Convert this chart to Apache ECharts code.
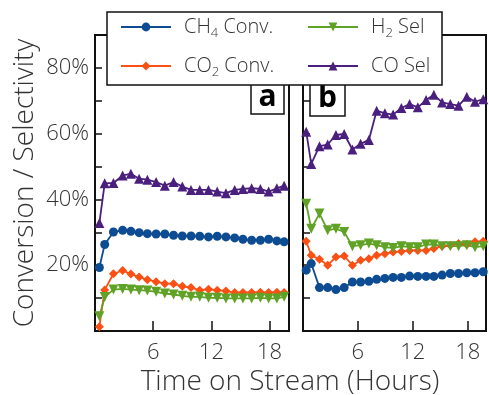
<!DOCTYPE html>
<html>
<head>
<meta charset="utf-8">
<script src="https://cdn.jsdelivr.net/npm/echarts@6/dist/echarts.min.js"></script>
<style>
  html, body { margin: 0; padding: 0; background: #fff; }
  #chart { width: 489px; height: 395px; }
</style>
</head>
<body>
<div id="chart"></div>
<script>
// Time on stream (hours) for each panel
const timeA = [0.45, 1.0, 1.9, 2.85, 3.7, 4.55, 5.4, 6.3, 7.2, 8.1, 9.0, 9.9, 10.8, 11.7, 12.6, 13.5, 14.4, 15.25, 16.15, 17.05, 17.9, 18.75, 19.5];
const timeB = [0.35, 0.9, 1.8, 2.7, 3.6, 4.5, 5.4, 6.3, 7.2, 8.05, 8.95, 9.85, 10.75, 11.65, 12.55, 13.45, 14.3, 15.2, 16.1, 17.0, 17.9, 18.8, 19.7];

// Panel a (%)
const ch4A = [19.3, 26.3, 30.1, 30.6, 30.3, 29.9, 29.6, 29.5, 29.5, 29.1, 28.9, 28.9, 28.8, 28.6, 28.8, 28.6, 28.3, 27.9, 27.6, 27.6, 27.9, 27.4, 27.1];
const co2A = [1.3, 12.5, 17.4, 18.4, 17.3, 16.4, 15.6, 15.0, 14.4, 14.4, 13.6, 13.2, 12.4, 12.7, 12.4, 12.2, 11.7, 11.7, 11.7, 11.8, 11.7, 11.8, 11.7];
const h2A  = [4.5, 10.3, 12.6, 12.8, 12.6, 12.4, 12.3, 11.9, 11.4, 11.1, 10.7, 10.4, 10.4, 10.1, 10.1, 9.9, 9.9, 9.9, 9.9, 10.1, 9.9, 9.9, 10.4];
const coA  = [32.8, 44.9, 45.0, 47.3, 47.8, 46.3, 46.0, 45.3, 44.2, 45.3, 43.9, 42.9, 42.9, 42.9, 42.4, 41.9, 42.9, 43.2, 43.4, 43.2, 42.4, 43.4, 44.2];

// Panel b (%)
const ch4B = [18.5, 20.5, 13.2, 13.2, 12.6, 13.2, 14.9, 14.9, 15.1, 15.7, 16.0, 16.3, 16.3, 16.7, 16.6, 16.6, 16.6, 17.0, 17.5, 17.5, 17.7, 17.7, 18.0];
const co2B = [27.3, 23.0, 21.8, 20.0, 22.5, 22.8, 20.0, 21.5, 22.0, 23.0, 23.5, 24.0, 24.2, 24.5, 24.5, 24.5, 25.1, 25.8, 26.1, 26.6, 26.3, 27.1, 27.3];
const h2B  = [38.7, 31.1, 35.7, 30.6, 31.1, 30.1, 25.8, 26.1, 26.6, 26.1, 25.5, 25.2, 25.8, 25.5, 25.5, 26.3, 26.3, 25.8, 25.8, 25.8, 26.1, 25.5, 25.8];
const coB  = [60.6, 50.8, 56.2, 56.7, 59.6, 59.9, 55.2, 56.9, 58.1, 67.0, 66.2, 65.8, 67.8, 69.0, 68.0, 70.2, 71.8, 69.5, 69.0, 68.5, 71.2, 69.7, 70.5];

// Tick labels
const xTickLabels = [6, 12, 18];
const yTickLabels = [20, 40, 60, 80];

const FONT = 'Open Sans';
const INK = '#111';
const TEXT = '#333';

const seriesDefs = [
  { name: 'CH4 Conv.', color: '#0d4c92', symbol: 'circle', size: 9, rotate: 0, a: ch4A, b: ch4B },
  { name: 'CO2 Conv.', color: '#fb4f14', symbol: 'diamond', size: 9, rotate: 0, a: co2A, b: co2B },
  { name: 'H2 Sel', color: '#5fa226', symbol: 'triangle', size: 10, rotate: 180, a: h2A, b: h2B },
  { name: 'CO Sel', color: '#4a1f7e', symbol: 'triangle', size: 10, rotate: 0, a: coA, b: coB }
];

const pairs = (xs, ys) => xs.map((x, i) => [x, ys[i]]);

const series = [];
seriesDefs.forEach(d => {
  [['a', timeA, 0], ['b', timeB, 1]].forEach(([key, t, idx]) => {
    series.push({
      name: d.name,
      type: 'line',
      xAxisIndex: idx,
      yAxisIndex: idx,
      data: pairs(t, d[key]),
      symbol: d.symbol,
      symbolSize: d.size,
      symbolRotate: d.rotate,
      color: d.color,
      lineStyle: { width: 1.8, color: d.color },
      itemStyle: { color: d.color },
      emphasis: { disabled: true },
      animation: false,
      z: 3
    });
  });
});

const legendLabel = {
  'CH4 Conv.': 'CH{s|4} Conv.',
  'CO2 Conv.': 'CO{s|2} Conv.',
  'H2 Sel': 'H{s|2} Sel',
  'CO Sel': 'CO Sel'
};

const legendBase = {
  orient: 'horizontal',
  itemWidth: 50,
  itemHeight: 11,
  padding: 0,
  z: 110,
  selectedMode: false,
  formatter: n => legendLabel[n],
  textStyle: {
    fontFamily: FONT, fontWeight: 300, fontSize: 20, color: TEXT,
    padding: [0, 0, 0, 8],
    rich: { s: { fontFamily: FONT, fontWeight: 300, fontSize: 13, color: TEXT, padding: [12, 0, 0, 0] } }
  }
};

const axisTickStyle = { color: INK, width: 1.5 };

const makeX = (gi) => ({
  type: 'value', gridIndex: gi, min: 0, max: 20, interval: 6,
  axisLine: { show: true, lineStyle: { color: INK, width: 2 } },
  axisTick: { show: true, inside: true, length: 10, lineStyle: axisTickStyle },
  splitLine: { show: false },
  axisLabel: {
    formatter: v => xTickLabels.includes(v) ? String(v) : '',
    fontFamily: FONT, fontWeight: 300, fontSize: 22, color: TEXT, margin: 11
  }
});

const makeY = (gi, labels) => ({
  type: 'value', gridIndex: gi, min: 0, max: 90, interval: 10,
  axisLine: { show: true, lineStyle: { color: INK, width: 2 } },
  axisTick: { show: true, inside: true, length: 7, lineStyle: axisTickStyle },
  splitLine: { show: false },
  axisLabel: {
    show: labels,
    formatter: v => yTickLabels.includes(v) ? v + '%' : '',
    fontFamily: FONT, fontWeight: 300, fontSize: 22, color: TEXT, margin: 6
  }
});

const yA = makeY(0, true);
yA.name = 'Conversion / Selectivity';
yA.nameLocation = 'middle';
yA.nameGap = 56;
yA.nameTextStyle = { fontFamily: FONT, fontWeight: 300, fontSize: 28, color: TEXT };

const option = {
  backgroundColor: '#fff',
  animation: false,
  grid: [
    { left: 95, top: 35, width: 194, height: 296, show: true, borderColor: INK, borderWidth: 2, backgroundColor: 'transparent' },
    { left: 303, top: 35, width: 193.4, height: 296, show: true, borderColor: INK, borderWidth: 2, backgroundColor: 'transparent' }
  ],
  xAxis: [makeX(0), makeX(1)],
  yAxis: [yA, makeY(1, false)],
  legend: [
    Object.assign({}, legendBase, { data: ['CH4 Conv.'], left: 120, top: 17 }),
    Object.assign({}, legendBase, { data: ['CO2 Conv.'], left: 120, top: 56 }),
    Object.assign({}, legendBase, { data: ['H2 Sel'], left: 307, top: 17 }),
    Object.assign({}, legendBase, { data: ['CO Sel'], left: 307, top: 56 })
  ],
  graphic: {
    elements: [
      // panel tags
      { type: 'rect', z: 50, shape: { x: 251, y: 80, width: 33, height: 34 }, style: { fill: '#fff', stroke: INK, lineWidth: 1.5 } },
      { type: 'text', z: 51, x: 267.5, y: 97, style: { text: 'a', fontFamily: FONT, fontWeight: 'bold', fontSize: 30, fill: '#000', textAlign: 'center', textVerticalAlign: 'middle' } },
      { type: 'rect', z: 50, shape: { x: 310, y: 80, width: 35, height: 36 }, style: { fill: '#fff', stroke: INK, lineWidth: 1.5 } },
      { type: 'text', z: 51, x: 327.5, y: 98, style: { text: 'b', fontFamily: FONT, fontWeight: 'bold', fontSize: 30, fill: '#000', textAlign: 'center', textVerticalAlign: 'middle' } },
      // legend frame
      { type: 'rect', z: 100, shape: { x: 107, y: 12, width: 335, height: 73 }, style: { fill: '#fff', stroke: INK, lineWidth: 1.5 } },
      // shared x-axis title
      { type: 'text', z: 60, x: 290, y: 382, style: { text: 'Time on Stream (Hours)', fontFamily: FONT, fontWeight: 300, fontSize: 28, fill: TEXT, textAlign: 'center', textVerticalAlign: 'middle' } }
    ]
  },
  series: series
};

const chart = echarts.init(document.getElementById('chart'), null, { renderer: 'canvas' });
chart.setOption(option);
</script>
</body>
</html>
